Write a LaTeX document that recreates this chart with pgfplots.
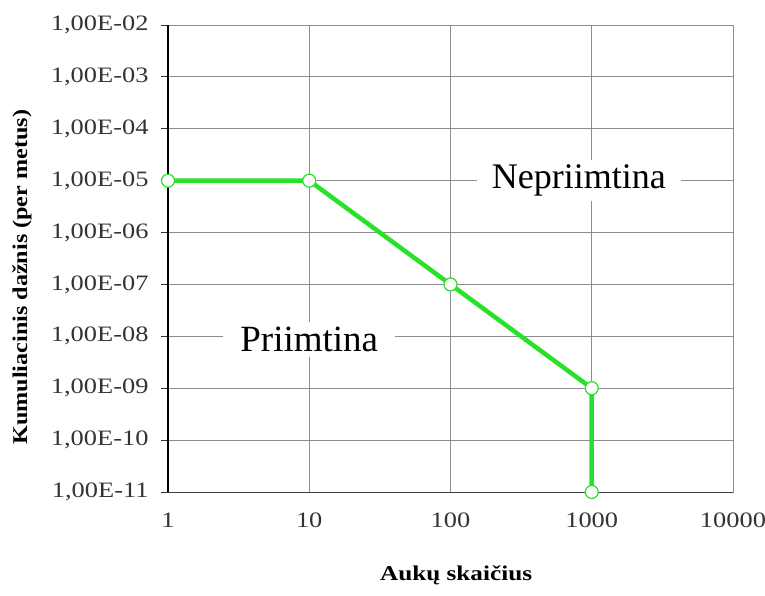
\documentclass[border=0pt]{standalone}
\usepackage{pgfplots}
\pgfplotsset{compat=1.18}
\usepackage{fontspec}
\setmainfont{Liberation Serif}
\newfontfamily\wide[FakeStretch=1.2]{Liberation Serif}
\newfontfamily\wideb[FakeStretch=1.15]{Liberation Serif}
\definecolor{lgreen}{RGB}{40,225,40}
\definecolor{gridgray}{RGB}{140,140,140}
\begin{document}
\begin{tikzpicture}
\useasboundingbox (-168pt,-103pt) rectangle (597pt,492pt);
\begin{axis}[
  scale only axis, width=565pt, height=467pt,
  xmode=log, ymode=log,
  xmin=1, xmax=10000, ymin=1e-11, ymax=1e-2,
  xtick={1,10,100,1000,10000},
  xticklabels={1,10,100,1000,10000},
  ytick={1e-11,1e-10,1e-9,1e-8,1e-7,1e-6,1e-5,1e-4,1e-3,1e-2},
  yticklabels={{1,00E-11},{1,00E-10},{1,00E-09},{1,00E-08},{1,00E-07},{1,00E-06},{1,00E-05},{1,00E-04},{1,00E-03},{1,00E-02}},
  grid=major,
  major grid style={draw=gridgray, line width=0.8pt},
  axis line style={draw=gridgray, line width=0.8pt},
  minor tick style={draw=none},
  ytick pos=left, xtick pos=bottom,
  tick align=outside, major tick length=7pt,
  tick style={black!80, line width=0.8pt},
  xtick style={draw=none},
  tick label style={font=\wide\fontsize{22}{24}\selectfont, text=black!80},
  xticklabel style={yshift=-10pt},
  yticklabel style={xshift=-9pt},
  xlabel={Aukų skaičius},
  ylabel={Kumuliacinis dažnis (per metus)},
  xlabel style={font=\wide\fontsize{21}{24}\selectfont\bfseries, at={(axis description cs:0.51,0)}, anchor=center, yshift=-83pt},
  ylabel style={font=\wideb\fontsize{21}{24}\selectfont\bfseries, at={(axis description cs:0,0.46)}, anchor=center, yshift=146pt},
  clip=false,
]
\draw[black, line width=1.3pt] (rel axis cs:0,0) -- (rel axis cs:0,1);
\draw[black!75, line width=1pt] (rel axis cs:0,0) -- (rel axis cs:1,0);
\node[fill=white, inner xsep=15pt, inner ysep=5pt, font=\fontsize{36}{40}\selectfont] at (axis cs:810,1e-5) {Nepriimtina};
\node[fill=white, inner xsep=17pt, inner ysep=5pt, font=\fontsize{37}{40}\selectfont] at (axis cs:10,8.7e-9) {Priimtina};
\addplot[lgreen, line width=4.5pt, mark=*, mark size=6.5pt,
  mark options={fill=white, draw=lgreen, line width=1.2pt}]
  coordinates {(1,1e-5) (10,1e-5) (100,1e-7) (1000,1e-9) (1000,1e-11)};
\end{axis}
\end{tikzpicture}
\end{document}
